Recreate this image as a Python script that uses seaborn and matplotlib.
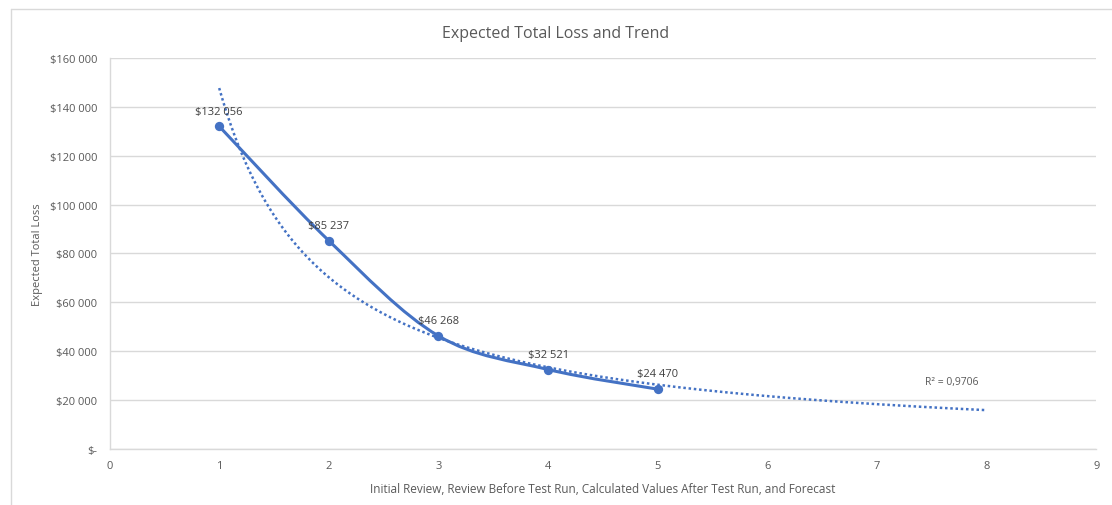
import numpy as np
import pandas as pd
import matplotlib
matplotlib.use("Agg")
import matplotlib.pyplot as plt
from matplotlib.path import Path
from matplotlib.patches import PathPatch
from matplotlib.lines import Line2D
from matplotlib.ticker import FuncFormatter, MultipleLocator
import seaborn as sns

# Stages and expected total loss at each stage
stages = [1, 2, 3, 4, 5]
expected_loss = [132056, 85237, 46268, 32521, 24470]
label_texts = ["$132 056", "$85 237", "$46 268", "$32 521", "$24 470"]
forecast_end = 8
r_squared_text = "R² = 0,9706"

title = "Expected Total Loss and Trend"
x_label = "Initial Review, Review Before Test Run, Calculated Values After Test Run, and Forecast"
y_label = "Expected Total Loss"

BLUE = "#4472C4"
GREY_TEXT = "#595959"
GRID = "#D9D9D9"

sns.set_theme(style="white")
plt.rcParams["font.family"] = ["Open Sans", "DejaVu Sans"]

fig = plt.figure(figsize=(11.12, 5.06), dpi=100)
ax = fig.add_axes([0.0985, 0.1107, 0.8875, 0.7727])

df = pd.DataFrame({"stage": stages, "loss": expected_loss})

# Power trendline y = a * x^b fitted in log-log space
b, ln_a = np.polyfit(np.log(df["stage"]), np.log(df["loss"]), 1)
trend_x = np.linspace(1, forecast_end, 200)
trend = pd.DataFrame({"stage": trend_x, "loss": np.exp(ln_a) * trend_x ** b})
sns.lineplot(data=trend, x="stage", y="loss", ax=ax, color=BLUE,
             linewidth=1.8, linestyle=(0, (1, 1.1)), zorder=2)

# Smoothed series line (cubic Bezier segments, Catmull-Rom tangents)
pts = df[["stage", "loss"]].to_numpy(dtype=float)
ext = np.vstack([pts[0], pts, pts[-1]])
verts = [tuple(pts[0])]
codes = [Path.MOVETO]
for i in range(len(pts) - 1):
    p0, p1, p2, p3 = ext[i], ext[i + 1], ext[i + 2], ext[i + 3]
    c1 = p1 + (p2 - p0) / 6.0
    c2 = p2 - (p3 - p1) / 6.0
    verts += [tuple(c1), tuple(c2), tuple(p2)]
    codes += [Path.CURVE4] * 3
ax.add_patch(PathPatch(Path(verts, codes), facecolor="none", edgecolor=BLUE,
                       linewidth=2.2, zorder=3, capstyle="round"))

sns.scatterplot(data=df, x="stage", y="loss", ax=ax, color=BLUE, s=45,
                edgecolor=BLUE, linewidth=0, zorder=4)

for x, y, t in zip(stages, expected_loss, label_texts):
    ax.annotate(t, (x, y), xytext=(0, 7), textcoords="offset points",
                ha="center", va="bottom", fontsize=8, color="#404040")

ax.text(7.68, 27500, r_squared_text, ha="center", va="center",
        fontsize=7.5, color=GREY_TEXT)

ax.set_xlim(0, 9)
ax.set_ylim(0, 160000)
ax.xaxis.set_major_locator(MultipleLocator(1))
ax.yaxis.set_major_locator(MultipleLocator(20000))
ax.yaxis.set_major_formatter(FuncFormatter(
    lambda v, _: "$-" if v == 0 else "$" + f"{int(v):,}".replace(",", " ")))

ax.grid(axis="y", color=GRID, linewidth=1)
ax.grid(axis="x", visible=False)
ax.set_axisbelow(True)
for side in ["top", "right"]:
    ax.spines[side].set_visible(False)
for side in ["left", "bottom"]:
    ax.spines[side].set_color(GRID)
    ax.spines[side].set_linewidth(1)
ax.tick_params(axis="both", which="major", direction="out", length=4,
               width=1, color=GRID, labelsize=8, labelcolor=GREY_TEXT, pad=4)
ax.tick_params(axis="y", pad=5)

ax.set_xlabel(x_label, fontsize=8.5, color=GREY_TEXT, labelpad=8)
ax.set_ylabel(y_label, fontsize=8, color=GREY_TEXT, labelpad=5)
fig.text(0.5, 0.933, title, ha="center", va="center", fontsize=11.5,
         color=GREY_TEXT)

# Chart frame (top and left edges)
fig.add_artist(Line2D([0.0099, 1.0], [0.98, 0.98], transform=fig.transFigure,
                      color="#D9D9D9", linewidth=1))
fig.add_artist(Line2D([0.0099, 0.0099], [0.0, 0.98], transform=fig.transFigure,
                      color="#D9D9D9", linewidth=1))

fig.savefig("out.png", dpi=100, facecolor="white")
